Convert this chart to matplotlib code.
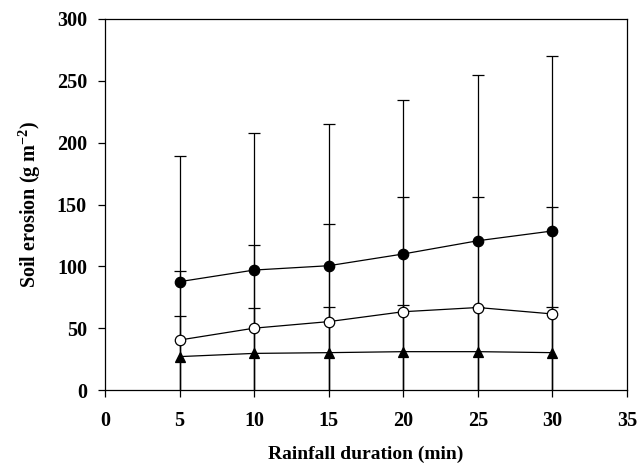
import matplotlib
matplotlib.use("Agg")
import matplotlib.pyplot as plt

duration = [5, 10, 15, 20, 25, 30]
filled_mean = [87.6, 97.0, 100.5, 110.0, 120.7, 128.6]
filled_sd = [101.4, 111.0, 114.5, 124.5, 134.3, 141.4]
open_mean = [40.4, 50.0, 55.3, 63.3, 66.7, 61.5]
open_sd = [55.6, 67.0, 78.7, 92.7, 89.3, 86.5]
tri_mean = [27.0, 29.6, 30.2, 31.0, 31.0, 30.2]
tri_sd = [33.0, 36.4, 36.8, 37.7, 36.4, 37.2]

x_ticks = [0, 5, 10, 15, 20, 25, 30, 35]
y_ticks = [0, 50, 100, 150, 200, 250, 300]

plt.rcParams['font.family'] = ['Liberation Serif', 'DejaVu Serif']
plt.rcParams['font.weight'] = 'bold'
plt.rcParams['mathtext.fontset'] = 'custom'
plt.rcParams['mathtext.rm'] = 'Liberation Serif:bold'
plt.rcParams['mathtext.bf'] = 'Liberation Serif:bold'
plt.rcParams['mathtext.it'] = 'Liberation Serif:bold:italic'

fig = plt.figure(figsize=(6.38, 4.68), dpi=100)
ax = fig.add_axes([105/638, 78/468, 522/638, 371/468])

series = [
    (filled_mean, filled_sd, 'o', 'black'),
    (open_mean, open_sd, 'o', 'white'),
    (tri_mean, tri_sd, '^', 'black'),
]
for mean, sd, mk, fc in series:
    ax.errorbar(duration, mean, yerr=sd, fmt='none', ecolor='black',
                elinewidth=0.9, capsize=4, capthick=0.9, zorder=2)
for mean, sd, mk, fc in series:
    ax.plot(duration, mean, color='black', linewidth=0.9, marker=mk,
            markersize=7.5, markerfacecolor=fc, markeredgecolor='black',
            markeredgewidth=0.9, zorder=3)

ax.set_xlim(0, 35)
ax.set_ylim(0, 300)
ax.set_xticks(x_ticks)
ax.set_yticks(y_ticks)
ax.tick_params(direction='out', length=5, width=0.9, labelsize=14.5, pad=8)
ax.tick_params(axis='x', pad=10)
for s in ax.spines.values():
    s.set_linewidth(0.9)
for lab in ax.get_xticklabels() + ax.get_yticklabels():
    lab.set_fontweight('bold')

ax.set_xlabel('Rainfall duration (min)', fontsize=14, fontweight='bold', labelpad=11)
ax.set_ylabel(r'Soil erosion (g m$^{\mathbf{-2}}$)', fontsize=14.5, fontweight='bold', labelpad=10)

fig.savefig('out.png', dpi=100)
